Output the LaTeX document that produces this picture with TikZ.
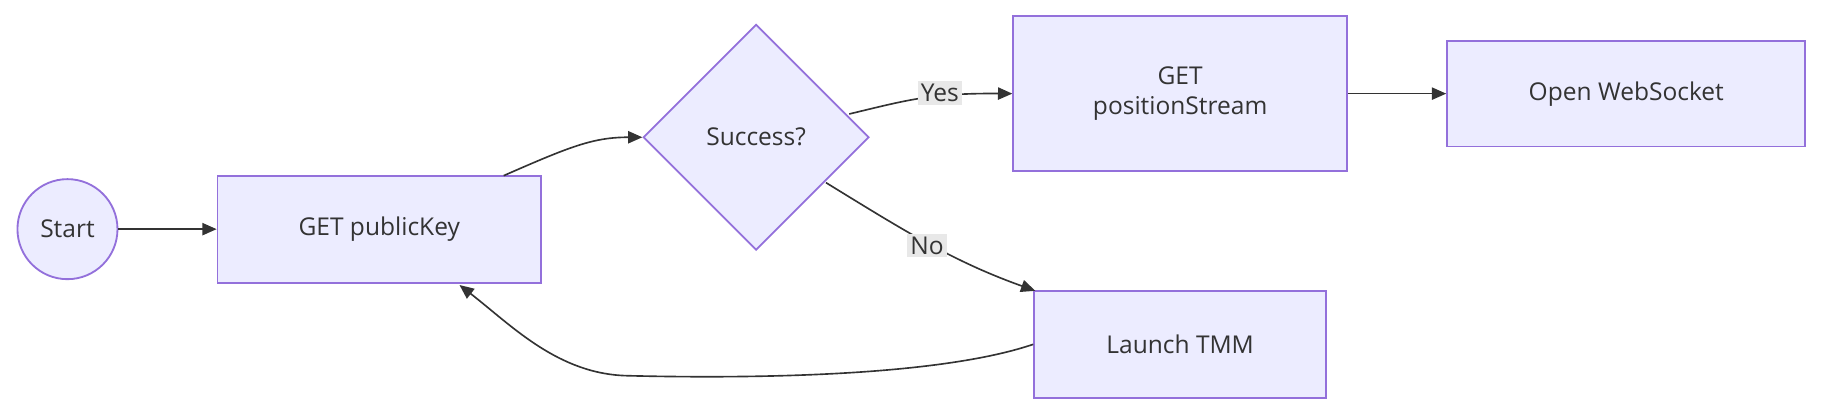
\documentclass[tikz,border=0pt]{standalone}
\usepackage{fontspec}
\setmainfont{Open Sans}
\usetikzlibrary{shapes.geometric,arrows.meta}
\definecolor{nf}{HTML}{ECECFF}\definecolor{ns}{HTML}{9370DB}\definecolor{tx}{HTML}{333333}\definecolor{lb}{HTML}{E8E8E8}
\begin{document}
\begin{tikzpicture}[x=0.02cm,y=-0.02cm,
 n/.style={draw=ns,fill=nf,line width=0.9pt,text=tx,font=\fontsize{12}{15}\selectfont,align=center,inner sep=0pt},
 e/.style={draw=tx,line width=0.8pt,-{Triangle[length=7pt,width=6pt]}},
 l/.style={fill=lb,text=tx,font=\fontsize{12}{15}\selectfont,inner sep=1.5pt}]
\useasboundingbox (0,0) rectangle (1568,357);
\node[n,circle,minimum size=86*0.02cm] (s) at (58,197) {Start};
\node[n,minimum width=278*0.02cm,minimum height=92*0.02cm] (pk) at (326,197) {GET publicKey};
\node[n,diamond,minimum width=194*0.02cm,minimum height=194*0.02cm] (d) at (650,118) {Success?};
\node[n,minimum width=287*0.02cm,minimum height=133*0.02cm] (ps) at (1014.5,80.5) {GET\\positionStream};
\node[n,minimum width=308*0.02cm,minimum height=91*0.02cm] (ws) at (1398,80.5) {Open WebSocket};
\node[n,minimum width=251*0.02cm,minimum height=92*0.02cm] (tmm) at (1014.5,296) {Launch TMM};
\draw[e] (s) -- (pk);
\draw[e] (433,151) .. controls (490,126) and (510,118) .. (d.west);
\draw[e] (730,98) .. controls (780,86) and (800,80) .. (ps.west);
\node[l] at (808,80) {Yes};
\draw[e] (ws.west -| ps.east) -- (ws.west);
\draw[e] (710,157) .. controls (780,200) and (820,225) .. (890,250);
\node[l] at (797,211) {No};
\draw[e] (tmm.west) .. controls (800,326) and (620,325) .. (540,323) .. controls (480,322) and (440,280) .. (395,245);
\end{tikzpicture}
\end{document}
